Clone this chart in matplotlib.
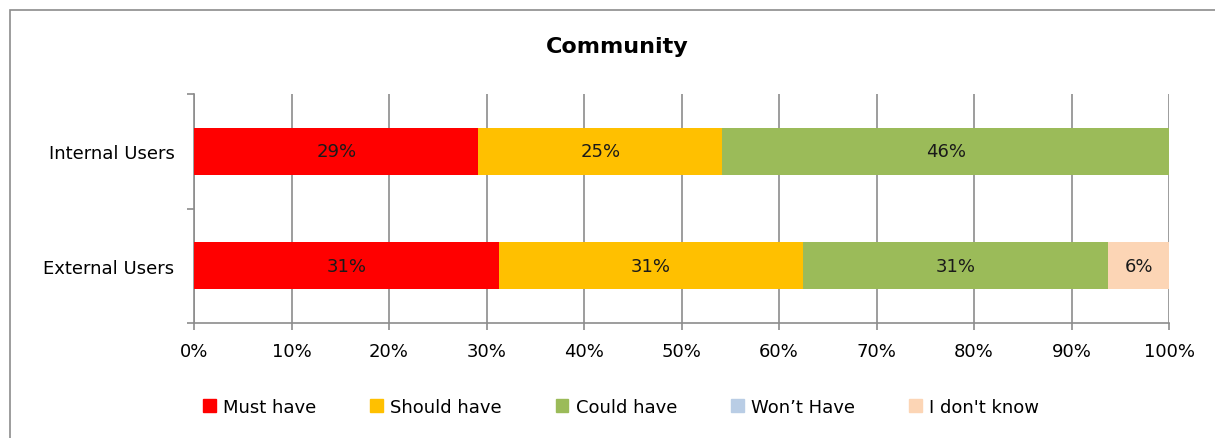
import matplotlib
matplotlib.use("Agg")
import matplotlib.pyplot as plt
import matplotlib.patches as mpatches
import numpy as np

# ---- data ----
groups = ["External Users", "Internal Users"]
categories = ["Must have", "Should have", "Could have", "Won\u2019t Have", "I don't know"]
colors = ["#FF0000", "#FFC000", "#9BBB59", "#B9CDE5", "#FCD5B5"]
# shares per group (External, Internal)
must_have = [31.25, 29.17]
should_have = [31.25, 25.0]
could_have = [31.25, 45.83]
wont_have = [0.0, 0.0]
dont_know = [6.25, 0.0]
values = [must_have, should_have, could_have, wont_have, dont_know]

W, H = 1215, 439
fig = plt.figure(figsize=(W / 100, H / 100), dpi=100)
fig.patch.set_facecolor("white")

# outer chart frame (left and top visible)
fig.patches.append(mpatches.Rectangle((10 / W, -0.1), 1.2, 1 - 11 / H + 0.1,
                                      transform=fig.transFigure, fill=False,
                                      edgecolor="#8C8C8C", linewidth=1.2))

ax = fig.add_axes([194 / W, 1 - 324 / H, (1169 - 194) / W, (324 - 95) / H])

y = np.arange(len(groups))
left = np.zeros(len(groups))
for cat, vals, col in zip(categories, values, colors):
    vals = np.array(vals)
    ax.barh(y, vals, left=left, height=0.41, color=col, label=cat, zorder=3)
    for yi, l, v in zip(y, left, vals):
        if v > 0:
            ax.text(l + v / 2, yi, f"{v:.0f}%", ha="center", va="center",
                    fontsize=13, color="#1A1A1A", zorder=4)
    left += vals

ax.set_xlim(0, 100)
ax.set_ylim(-0.5, 1.5)
ax.set_xticks(np.arange(0, 101, 10))
ax.set_xticklabels([f"{t}%" for t in range(0, 101, 10)], fontsize=13)
ax.set_yticks([-0.5, 0.5, 1.5])
ax.set_yticklabels([])
ax.set_yticks(y, minor=True)
ax.set_yticklabels(groups, minor=True, fontsize=13)
ax.tick_params(axis="y", which="minor", length=0, pad=14)
ax.tick_params(axis="y", which="major", length=5, color="#8C8C8C", width=1.2)
ax.tick_params(axis="x", length=5, color="#8C8C8C", width=1.2, pad=9)

ax.grid(axis="x", color="#8C8C8C", linewidth=1.2, zorder=0)
for s in ["top", "right"]:
    ax.spines[s].set_visible(False)
for s in ["left", "bottom"]:
    ax.spines[s].set_color("#8C8C8C")
    ax.spines[s].set_linewidth(1.2)

fig.text(617 / W, 1 - 47 / H, "Community", ha="center", va="center",
         fontsize=16, fontweight="bold")

handles = [mpatches.Patch(color=c, label=l) for c, l in zip(colors, categories)]
fig.legend(handles=handles, loc="center", bbox_to_anchor=(621 / W, 1 - 408 / H),
           ncol=5, frameon=False, fontsize=13, handlelength=0.7,
           handleheight=0.7, handletextpad=0.4, columnspacing=3.0)

plt.savefig("out.png", dpi=100, facecolor="white")
